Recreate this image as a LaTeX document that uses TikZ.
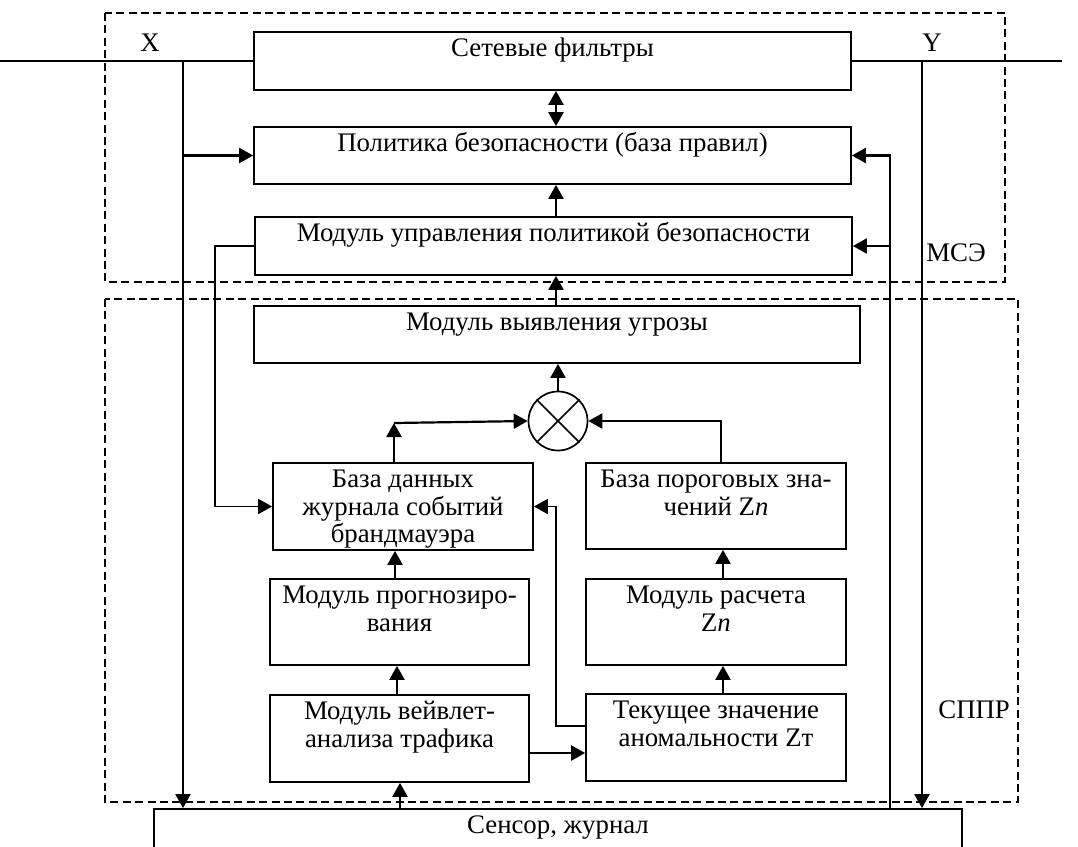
\documentclass[tikz,border=0pt]{standalone}
\usepackage{fontspec}
\setmainfont{Liberation Serif}
\usetikzlibrary{arrows.meta}
\newcommand\firstl{\rule{0pt}{12.5pt}}
\begin{document}
\begin{tikzpicture}[x=0.5pt,y=-0.5pt,
  every node/.style={font=\fontsize{13.4}{13.8}\selectfont},
  blk/.style={draw, line width=0.85pt, inner sep=0pt, rectangle},
  sz/.style 2 args={minimum width=#1*0.5pt, minimum height=#2*0.5pt},
  tx/.style={anchor=north, inner sep=0pt, align=center},
  ar/.style={-{Triangle[length=7pt,width=7.5pt]}},
  dar/.style={{Triangle[length=7pt,width=7.5pt]}-{Triangle[length=7pt,width=7.5pt]}},
  ln/.style={line width=1.1pt},
  dsh/.style={line width=0.7pt, dash pattern=on 4pt off 2.2pt}]
\useasboundingbox (0,0) rectangle (1078,847);
\clip (0,0) rectangle (1078,847);

% dashed frames
\draw[dsh] (105,13) rectangle (1005,282);
\draw[dsh] (105,299) rectangle (1018,802);

% blocks
\node[blk, sz={597}{58}] (fil) at (552.5,61) {};
\node[blk, sz={597}{57}] (pol) at (552.5,155.5) {};
\node[blk, sz={597}{58}] (upr) at (553.5,246) {};
\node[blk, sz={606}{57}] (vyy) at (557,334.5) {};
\node[draw, circle, line width=0.85pt, inner sep=0pt, minimum size=29.5pt] (mul) at (558,421) {};
\node[blk, sz={260}{87}] (db) at (403,506.5) {};
\node[blk, sz={260}{86}] (thr) at (716,506) {};
\node[blk, sz={259}{86}] (prog) at (399.5,622) {};
\node[blk, sz={260}{86}] (calc) at (716,622) {};
\node[blk, sz={259}{87}] (wav) at (399.5,738.5) {};
\node[blk, sz={260}{87}] (cur) at (716,737.5) {};
\node[blk, sz={808}{60}] (sensor) at (558,839) {};

% texts
\node[tx] (filt) at (fil.north) {\firstl Сетевые фильтры};
\node[tx] (polt) at (pol.north) {\firstl Политика безопасности (база правил)};
\node[tx] (uprt) at (upr.north) {\firstl Модуль управления политикой безопасности};
\node[tx] (vyyt) at (vyy.north) {\firstl Модуль выявления угрозы};
\node[tx] (dbt) at (db.north) {\firstl База данных\\журнала событий\\брандмауэра};
\node[tx] (thrt) at (thr.north) {\firstl База пороговых зна-\\чений Z\textit{n}};
\node[tx] (progt) at (prog.north) {\firstl Модуль прогнозиро-\\вания};
\node[tx] (calct) at (calc.north) {\firstl Модуль расчета\\Z\textit{n}};
\node[tx] (wavt) at (wav.north) {\firstl Модуль вейвлет-\\анализа трафика};
\node[tx] (curt) at (cur.north) {\firstl Текущее значение\\аномальности Zт};
\node[tx] (sent) at (sensor.north) {\firstl Сенсор, журнал};

% labels
\node (lx) at (150,43) {X};
\node (ly) at (932,43) {Y};
\node[anchor=west, inner sep=1pt] (lm) at (924,253) {МСЭ};
\node[anchor=west, inner sep=1pt] (ls) at (936,710) {СППР};

% multiplier cross
\draw[line width=0.85pt] (mul.north west) -- (mul.south east) (mul.north east) -- (mul.south west);

% coordinates
\coordinate (xin) at (0,61);
\coordinate (yout) at (1062,61);
\coordinate (xt) at (183,61);
\coordinate (yt) at (922,61);
\coordinate (cx) at (556,0);
\coordinate (rl) at (890,0);
\coordinate (ll) at (215,0);
\coordinate (dbc) at (394,423);
\coordinate (tc) at (721,421);
\coordinate (cd) at (556,726);
\coordinate (wc) at (0,753);
\coordinate (c1) at (395,0);
\coordinate (c2) at (397,0);
\coordinate (c3) at (400,0);
\coordinate (c4) at (723,0);

% connectors
\draw[ln] (xin) -- (fil.west);
\draw[ln] (fil.east) -- (yout);
\draw[ln,ar] (xt) -- (xt |- sensor.north);
\draw[ln,ar] (yt) -- (yt |- sensor.north);
\draw[ln,ar] (xt |- pol.west) -- (pol.west);
\draw[ln,dar] (cx |- fil.south) -- (cx |- pol.north);
\draw[ln,ar] (cx |- upr.north) -- (cx |- pol.south);
\draw[ln,ar] (cx |- vyy.north) -- (cx |- upr.south);
\draw[ln,ar] (mul.north) -- (mul.north |- vyy.south);
\draw[ln,ar] (rl |- sensor.north) -- (rl |- pol.east) -- (pol.east);
\draw[ln,ar] (rl |- upr.east) -- (upr.east);
\draw[line width=0.85pt,ar] (upr.west) -- (ll |- upr.west) -- (ll |- db.west) -- (db.west);
\draw[ln,ar] (dbc |- db.north) -- (dbc);
\draw[ln,ar] (dbc) -- (mul.west);
\draw[ln,ar] (tc |- thr.north) -- (tc) -- (mul.east);
\draw[line width=0.85pt,ar] (cur.west |- cd) -- (cd) -- (cd |- db.east) -- (db.east);
\draw[ln,ar] (wav.east |- wc) -- (cur.west |- wc);
\draw[ln,ar] (c3 |- sensor.north) -- (c3 |- wav.south);
\draw[ln,ar] (c2 |- wav.north) -- (c2 |- prog.south);
\draw[ln,ar] (c1 |- prog.north) -- (c1 |- db.south);
\draw[ln,ar] (c4 |- cur.north) -- (c4 |- calc.south);
\draw[ln,ar] (c4 |- calc.north) -- (c4 |- thr.south);
\end{tikzpicture}
\end{document}
